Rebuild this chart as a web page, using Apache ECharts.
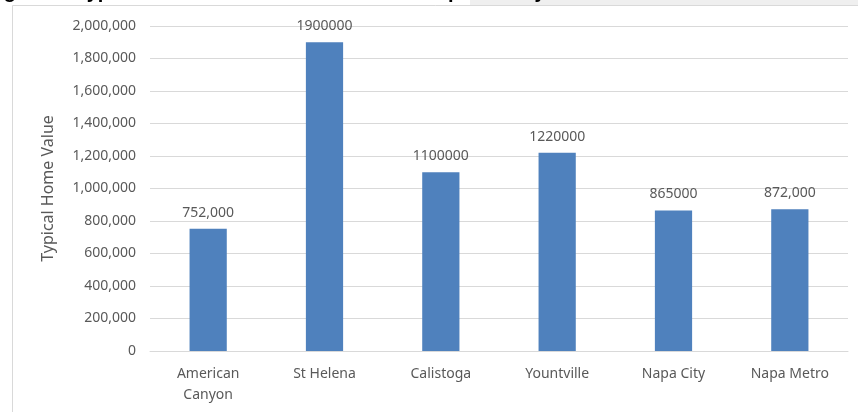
<!DOCTYPE html>
<html>
<head>
<meta charset="utf-8">
<style>
  html, body { margin: 0; padding: 0; background: #ffffff; }
  #chart { width: 858px; height: 412px; }
</style>
<script src="https://cdn.jsdelivr.net/npm/echarts@6/dist/echarts.min.js"></script>
</head>
<body>
<div id="chart"></div>
<script>
// Typical home value by city in Napa County
const cities = ['American\nCanyon', 'St Helena', 'Calistoga', 'Yountville', 'Napa City', 'Napa Metro'];
const homeValues = [752000, 1900000, 1100000, 1220000, 865000, 872000];
// Value labels as they are printed above each bar
const valueLabels = ['752,000', '1900000', '1100000', '1220000', '865000', '872,000'];
const yTicks = { min: 0, max: 2000000, interval: 200000 };

const chart = echarts.init(document.getElementById('chart'), null, { renderer: 'canvas' });
const textColor = '#595959';
const lineColor = '#d9d9d9';
const font = 'Noto Sans';

chart.setOption({
  animation: false,
  backgroundColor: '#ffffff',
  grid: { left: 150, right: 10, top: 26, bottom: 61, containLabel: false },
  xAxis: {
    type: 'category',
    data: cities,
    axisLine: { lineStyle: { color: lineColor, width: 1 } },
    axisTick: { show: false },
    axisLabel: {
      color: textColor, fontFamily: font, fontSize: 14, margin: 13, lineHeight: 21,
      interval: 0
    }
  },
  yAxis: {
    type: 'value',
    min: yTicks.min, max: yTicks.max, interval: yTicks.interval,
    name: 'Typical Home Value',
    nameLocation: 'middle',
    nameGap: 94,
    nameTextStyle: { color: textColor, fontFamily: font, fontSize: 16 },
    axisLine: { show: false },
    axisTick: { show: false },
    splitLine: { lineStyle: { color: lineColor, width: 1 } },
    axisLabel: {
      color: textColor, fontFamily: font, fontSize: 14, margin: 14,
      formatter: v => v.toLocaleString('en-US')
    }
  },
  series: [{
    type: 'bar',
    data: homeValues,
    barWidth: '32%',
    itemStyle: { color: '#4f81bd' },
    label: {
      show: true,
      position: 'top',
      distance: 9,
      color: textColor,
      fontFamily: font,
      fontSize: 14,
      formatter: p => valueLabels[p.dataIndex]
    }
  }],
  graphic: [
    { type: 'rect', shape: { x: 470, y: 0, width: 388, height: 5 }, style: { fill: '#efefef' }, z: -1 },
    { type: 'rect', shape: { x: 12.5, y: 5.5, width: 860, height: 420 }, style: { fill: 'none', stroke: lineColor, lineWidth: 1 }, z: 0 },
    {
      type: 'text', left: -14, top: -18,
      style: {
        text: 'Figure 4: Typical Home Values of the Cities in Napa County',
        font: 'bold 20px "Liberation Sans"', fill: '#000000'
      },
      z: 10
    }
  ]
});
</script>
</body>
</html>
